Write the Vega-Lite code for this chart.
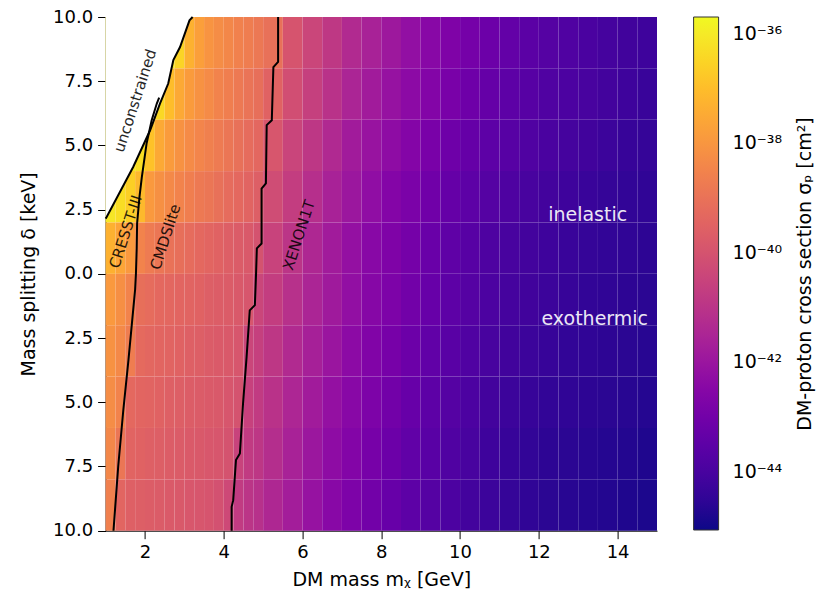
{
  "$schema": "https://vega.github.io/schema/vega-lite/v6.json",
  "width": 551.4,
  "height": 513.7,
  "autosize": {"type": "none"},
  "padding": {"left": 105.6, "top": 17, "right": 168, "bottom": 59.3},
  "background": "white",
  "config": {
    "font": "DejaVu Sans",
    "view": {"stroke": null},
    "axis": {"grid": false, "labelFontSize": 18, "titleFontSize": 19, "titleFontWeight": "normal", "labelColor": "black", "titleColor": "black", "tickColor": "black", "domainColor": "black", "tickSize": 8, "zindex": 1},
    "legend": {"labelFontSize": 19, "titleFontSize": 19, "titleFontWeight": "normal", "labelColor": "black", "titleColor": "black"}
  },
  "datasets": {
    "grid": [
      {"m0":1,"m1":1.25,"d0":8,"d1":10,"logs":-36.0},{"m0":1.25,"m1":1.5,"d0":8,"d1":10,"logs":-36.0},{"m0":1.5,"m1":1.75,"d0":8,"d1":10,"logs":-36.0},{"m0":1.75,"m1":2,"d0":8,"d1":10,"logs":-36.0},{"m0":2,"m1":2.25,"d0":8,"d1":10,"logs":-36.0},{"m0":2.25,"m1":2.5,"d0":8,"d1":10,"logs":-36.0},{"m0":2.5,"m1":2.75,"d0":8,"d1":10,"logs":-36.1},{"m0":2.75,"m1":3,"d0":8,"d1":10,"logs":-36.5},{"m0":3,"m1":3.25,"d0":8,"d1":10,"logs":-37.3},{"m0":3.25,"m1":3.5,"d0":8,"d1":10,"logs":-37.75},{"m0":3.5,"m1":3.75,"d0":8,"d1":10,"logs":-38.05},{"m0":3.75,"m1":4,"d0":8,"d1":10,"logs":-38.25},{"m0":4,"m1":4.25,"d0":8,"d1":10,"logs":-38.4},{"m0":4.25,"m1":4.5,"d0":8,"d1":10,"logs":-38.55},{"m0":4.5,"m1":4.75,"d0":8,"d1":10,"logs":-38.7},{"m0":4.75,"m1":5,"d0":8,"d1":10,"logs":-38.85},{"m0":5,"m1":5.5,"d0":8,"d1":10,"logs":-39.05},{"m0":5.5,"m1":6,"d0":8,"d1":10,"logs":-39.95},{"m0":6,"m1":6.5,"d0":8,"d1":10,"logs":-40.4},{"m0":6.5,"m1":7,"d0":8,"d1":10,"logs":-40.85},{"m0":7,"m1":7.5,"d0":8,"d1":10,"logs":-41.3},{"m0":7.5,"m1":8,"d0":8,"d1":10,"logs":-41.6},{"m0":8,"m1":8.5,"d0":8,"d1":10,"logs":-41.9},{"m0":8.5,"m1":9,"d0":8,"d1":10,"logs":-42.2},{"m0":9,"m1":9.5,"d0":8,"d1":10,"logs":-42.45},{"m0":9.5,"m1":10,"d0":8,"d1":10,"logs":-42.7},{"m0":10,"m1":10.5,"d0":8,"d1":10,"logs":-42.95},{"m0":10.5,"m1":11,"d0":8,"d1":10,"logs":-43.15},{"m0":11,"m1":11.5,"d0":8,"d1":10,"logs":-43.35},{"m0":11.5,"m1":12,"d0":8,"d1":10,"logs":-43.55},{"m0":12,"m1":12.5,"d0":8,"d1":10,"logs":-43.7},{"m0":12.5,"m1":13,"d0":8,"d1":10,"logs":-43.8},{"m0":13,"m1":13.5,"d0":8,"d1":10,"logs":-43.95},{"m0":13.5,"m1":14,"d0":8,"d1":10,"logs":-44.05},{"m0":14,"m1":14.5,"d0":8,"d1":10,"logs":-44.15},{"m0":14.5,"m1":15,"d0":8,"d1":10,"logs":-44.2},
      {"m0":1,"m1":1.25,"d0":6,"d1":8,"logs":-36.0},{"m0":1.25,"m1":1.5,"d0":6,"d1":8,"logs":-36.0},{"m0":1.5,"m1":1.75,"d0":6,"d1":8,"logs":-36.0},{"m0":1.75,"m1":2,"d0":6,"d1":8,"logs":-36.0},{"m0":2,"m1":2.25,"d0":6,"d1":8,"logs":-36.1},{"m0":2.25,"m1":2.5,"d0":6,"d1":8,"logs":-36.4},{"m0":2.5,"m1":2.75,"d0":6,"d1":8,"logs":-37.0},{"m0":2.75,"m1":3,"d0":6,"d1":8,"logs":-37.5},{"m0":3,"m1":3.25,"d0":6,"d1":8,"logs":-37.85},{"m0":3.25,"m1":3.5,"d0":6,"d1":8,"logs":-38.1},{"m0":3.5,"m1":3.75,"d0":6,"d1":8,"logs":-38.3},{"m0":3.75,"m1":4,"d0":6,"d1":8,"logs":-38.5},{"m0":4,"m1":4.25,"d0":6,"d1":8,"logs":-38.65},{"m0":4.25,"m1":4.5,"d0":6,"d1":8,"logs":-38.8},{"m0":4.5,"m1":4.75,"d0":6,"d1":8,"logs":-38.95},{"m0":4.75,"m1":5,"d0":6,"d1":8,"logs":-39.1},{"m0":5,"m1":5.5,"d0":6,"d1":8,"logs":-39.5},{"m0":5.5,"m1":6,"d0":6,"d1":8,"logs":-40.15},{"m0":6,"m1":6.5,"d0":6,"d1":8,"logs":-40.6},{"m0":6.5,"m1":7,"d0":6,"d1":8,"logs":-41.05},{"m0":7,"m1":7.5,"d0":6,"d1":8,"logs":-41.5},{"m0":7.5,"m1":8,"d0":6,"d1":8,"logs":-41.8},{"m0":8,"m1":8.5,"d0":6,"d1":8,"logs":-42.1},{"m0":8.5,"m1":9,"d0":6,"d1":8,"logs":-42.35},{"m0":9,"m1":9.5,"d0":6,"d1":8,"logs":-42.6},{"m0":9.5,"m1":10,"d0":6,"d1":8,"logs":-42.85},{"m0":10,"m1":10.5,"d0":6,"d1":8,"logs":-43.1},{"m0":10.5,"m1":11,"d0":6,"d1":8,"logs":-43.3},{"m0":11,"m1":11.5,"d0":6,"d1":8,"logs":-43.5},{"m0":11.5,"m1":12,"d0":6,"d1":8,"logs":-43.65},{"m0":12,"m1":12.5,"d0":6,"d1":8,"logs":-43.8},{"m0":12.5,"m1":13,"d0":6,"d1":8,"logs":-43.9},{"m0":13,"m1":13.5,"d0":6,"d1":8,"logs":-44.0},{"m0":13.5,"m1":14,"d0":6,"d1":8,"logs":-44.1},{"m0":14,"m1":14.5,"d0":6,"d1":8,"logs":-44.2},{"m0":14.5,"m1":15,"d0":6,"d1":8,"logs":-44.3},
      {"m0":1,"m1":1.25,"d0":4,"d1":6,"logs":-36.0},{"m0":1.25,"m1":1.5,"d0":4,"d1":6,"logs":-36.0},{"m0":1.5,"m1":1.75,"d0":4,"d1":6,"logs":-36.1},{"m0":1.75,"m1":2,"d0":4,"d1":6,"logs":-36.3},{"m0":2,"m1":2.25,"d0":4,"d1":6,"logs":-36.9},{"m0":2.25,"m1":2.5,"d0":4,"d1":6,"logs":-37.5},{"m0":2.5,"m1":2.75,"d0":4,"d1":6,"logs":-37.85},{"m0":2.75,"m1":3,"d0":4,"d1":6,"logs":-38.1},{"m0":3,"m1":3.25,"d0":4,"d1":6,"logs":-38.3},{"m0":3.25,"m1":3.5,"d0":4,"d1":6,"logs":-38.45},{"m0":3.5,"m1":3.75,"d0":4,"d1":6,"logs":-38.6},{"m0":3.75,"m1":4,"d0":4,"d1":6,"logs":-38.75},{"m0":4,"m1":4.25,"d0":4,"d1":6,"logs":-38.9},{"m0":4.25,"m1":4.5,"d0":4,"d1":6,"logs":-39.05},{"m0":4.5,"m1":4.75,"d0":4,"d1":6,"logs":-39.2},{"m0":4.75,"m1":5,"d0":4,"d1":6,"logs":-39.35},{"m0":5,"m1":5.5,"d0":4,"d1":6,"logs":-39.9},{"m0":5.5,"m1":6,"d0":4,"d1":6,"logs":-40.45},{"m0":6,"m1":6.5,"d0":4,"d1":6,"logs":-40.9},{"m0":6.5,"m1":7,"d0":4,"d1":6,"logs":-41.35},{"m0":7,"m1":7.5,"d0":4,"d1":6,"logs":-41.8},{"m0":7.5,"m1":8,"d0":4,"d1":6,"logs":-42.05},{"m0":8,"m1":8.5,"d0":4,"d1":6,"logs":-42.3},{"m0":8.5,"m1":9,"d0":4,"d1":6,"logs":-42.55},{"m0":9,"m1":9.5,"d0":4,"d1":6,"logs":-42.85},{"m0":9.5,"m1":10,"d0":4,"d1":6,"logs":-43.1},{"m0":10,"m1":10.5,"d0":4,"d1":6,"logs":-43.3},{"m0":10.5,"m1":11,"d0":4,"d1":6,"logs":-43.5},{"m0":11,"m1":11.5,"d0":4,"d1":6,"logs":-43.65},{"m0":11.5,"m1":12,"d0":4,"d1":6,"logs":-43.8},{"m0":12,"m1":12.5,"d0":4,"d1":6,"logs":-43.95},{"m0":12.5,"m1":13,"d0":4,"d1":6,"logs":-44.05},{"m0":13,"m1":13.5,"d0":4,"d1":6,"logs":-44.15},{"m0":13.5,"m1":14,"d0":4,"d1":6,"logs":-44.25},{"m0":14,"m1":14.5,"d0":4,"d1":6,"logs":-44.35},{"m0":14.5,"m1":15,"d0":4,"d1":6,"logs":-44.4},
      {"m0":1,"m1":1.25,"d0":2,"d1":4,"logs":-36.1},{"m0":1.25,"m1":1.5,"d0":2,"d1":4,"logs":-36.3},{"m0":1.5,"m1":1.75,"d0":2,"d1":4,"logs":-36.6},{"m0":1.75,"m1":2,"d0":2,"d1":4,"logs":-37.1},{"m0":2,"m1":2.25,"d0":2,"d1":4,"logs":-37.9},{"m0":2.25,"m1":2.5,"d0":2,"d1":4,"logs":-38.15},{"m0":2.5,"m1":2.75,"d0":2,"d1":4,"logs":-38.35},{"m0":2.75,"m1":3,"d0":2,"d1":4,"logs":-38.5},{"m0":3,"m1":3.25,"d0":2,"d1":4,"logs":-38.65},{"m0":3.25,"m1":3.5,"d0":2,"d1":4,"logs":-38.8},{"m0":3.5,"m1":3.75,"d0":2,"d1":4,"logs":-38.9},{"m0":3.75,"m1":4,"d0":2,"d1":4,"logs":-39.05},{"m0":4,"m1":4.25,"d0":2,"d1":4,"logs":-39.2},{"m0":4.25,"m1":4.5,"d0":2,"d1":4,"logs":-39.3},{"m0":4.5,"m1":4.75,"d0":2,"d1":4,"logs":-39.45},{"m0":4.75,"m1":5,"d0":2,"d1":4,"logs":-39.6},{"m0":5,"m1":5.5,"d0":2,"d1":4,"logs":-40.2},{"m0":5.5,"m1":6,"d0":2,"d1":4,"logs":-40.7},{"m0":6,"m1":6.5,"d0":2,"d1":4,"logs":-41.15},{"m0":6.5,"m1":7,"d0":2,"d1":4,"logs":-41.6},{"m0":7,"m1":7.5,"d0":2,"d1":4,"logs":-41.95},{"m0":7.5,"m1":8,"d0":2,"d1":4,"logs":-42.25},{"m0":8,"m1":8.5,"d0":2,"d1":4,"logs":-42.55},{"m0":8.5,"m1":9,"d0":2,"d1":4,"logs":-42.8},{"m0":9,"m1":9.5,"d0":2,"d1":4,"logs":-43.05},{"m0":9.5,"m1":10,"d0":2,"d1":4,"logs":-43.3},{"m0":10,"m1":10.5,"d0":2,"d1":4,"logs":-43.5},{"m0":10.5,"m1":11,"d0":2,"d1":4,"logs":-43.7},{"m0":11,"m1":11.5,"d0":2,"d1":4,"logs":-43.85},{"m0":11.5,"m1":12,"d0":2,"d1":4,"logs":-44.0},{"m0":12,"m1":12.5,"d0":2,"d1":4,"logs":-44.1},{"m0":12.5,"m1":13,"d0":2,"d1":4,"logs":-44.2},{"m0":13,"m1":13.5,"d0":2,"d1":4,"logs":-44.3},{"m0":13.5,"m1":14,"d0":2,"d1":4,"logs":-44.4},{"m0":14,"m1":14.5,"d0":2,"d1":4,"logs":-44.45},{"m0":14.5,"m1":15,"d0":2,"d1":4,"logs":-44.5},
      {"m0":1,"m1":1.25,"d0":0,"d1":2,"logs":-37.3},{"m0":1.25,"m1":1.5,"d0":0,"d1":2,"logs":-37.6},{"m0":1.5,"m1":1.75,"d0":0,"d1":2,"logs":-37.9},{"m0":1.75,"m1":2,"d0":0,"d1":2,"logs":-38.5},{"m0":2,"m1":2.25,"d0":0,"d1":2,"logs":-38.75},{"m0":2.25,"m1":2.5,"d0":0,"d1":2,"logs":-38.9},{"m0":2.5,"m1":2.75,"d0":0,"d1":2,"logs":-39.0},{"m0":2.75,"m1":3,"d0":0,"d1":2,"logs":-39.1},{"m0":3,"m1":3.25,"d0":0,"d1":2,"logs":-39.2},{"m0":3.25,"m1":3.5,"d0":0,"d1":2,"logs":-39.3},{"m0":3.5,"m1":3.75,"d0":0,"d1":2,"logs":-39.4},{"m0":3.75,"m1":4,"d0":0,"d1":2,"logs":-39.5},{"m0":4,"m1":4.25,"d0":0,"d1":2,"logs":-39.6},{"m0":4.25,"m1":4.5,"d0":0,"d1":2,"logs":-39.7},{"m0":4.5,"m1":4.75,"d0":0,"d1":2,"logs":-39.8},{"m0":4.75,"m1":5,"d0":0,"d1":2,"logs":-40.0},{"m0":5,"m1":5.5,"d0":0,"d1":2,"logs":-40.5},{"m0":5.5,"m1":6,"d0":0,"d1":2,"logs":-40.95},{"m0":6,"m1":6.5,"d0":0,"d1":2,"logs":-41.4},{"m0":6.5,"m1":7,"d0":0,"d1":2,"logs":-41.8},{"m0":7,"m1":7.5,"d0":0,"d1":2,"logs":-42.15},{"m0":7.5,"m1":8,"d0":0,"d1":2,"logs":-42.45},{"m0":8,"m1":8.5,"d0":0,"d1":2,"logs":-42.7},{"m0":8.5,"m1":9,"d0":0,"d1":2,"logs":-42.95},{"m0":9,"m1":9.5,"d0":0,"d1":2,"logs":-43.2},{"m0":9.5,"m1":10,"d0":0,"d1":2,"logs":-43.45},{"m0":10,"m1":10.5,"d0":0,"d1":2,"logs":-43.65},{"m0":10.5,"m1":11,"d0":0,"d1":2,"logs":-43.85},{"m0":11,"m1":11.5,"d0":0,"d1":2,"logs":-44.0},{"m0":11.5,"m1":12,"d0":0,"d1":2,"logs":-44.1},{"m0":12,"m1":12.5,"d0":0,"d1":2,"logs":-44.2},{"m0":12.5,"m1":13,"d0":0,"d1":2,"logs":-44.3},{"m0":13,"m1":13.5,"d0":0,"d1":2,"logs":-44.4},{"m0":13.5,"m1":14,"d0":0,"d1":2,"logs":-44.45},{"m0":14,"m1":14.5,"d0":0,"d1":2,"logs":-44.5},{"m0":14.5,"m1":15,"d0":0,"d1":2,"logs":-44.55},
      {"m0":1,"m1":1.25,"d0":-2,"d1":0,"logs":-37.9},{"m0":1.25,"m1":1.5,"d0":-2,"d1":0,"logs":-38.2},{"m0":1.5,"m1":1.75,"d0":-2,"d1":0,"logs":-38.5},{"m0":1.75,"m1":2,"d0":-2,"d1":0,"logs":-39.1},{"m0":2,"m1":2.25,"d0":-2,"d1":0,"logs":-39.2},{"m0":2.25,"m1":2.5,"d0":-2,"d1":0,"logs":-39.3},{"m0":2.5,"m1":2.75,"d0":-2,"d1":0,"logs":-39.35},{"m0":2.75,"m1":3,"d0":-2,"d1":0,"logs":-39.4},{"m0":3,"m1":3.25,"d0":-2,"d1":0,"logs":-39.45},{"m0":3.25,"m1":3.5,"d0":-2,"d1":0,"logs":-39.5},{"m0":3.5,"m1":3.75,"d0":-2,"d1":0,"logs":-39.6},{"m0":3.75,"m1":4,"d0":-2,"d1":0,"logs":-39.65},{"m0":4,"m1":4.25,"d0":-2,"d1":0,"logs":-39.7},{"m0":4.25,"m1":4.5,"d0":-2,"d1":0,"logs":-39.8},{"m0":4.5,"m1":4.75,"d0":-2,"d1":0,"logs":-39.9},{"m0":4.75,"m1":5,"d0":-2,"d1":0,"logs":-40.4},{"m0":5,"m1":5.5,"d0":-2,"d1":0,"logs":-40.7},{"m0":5.5,"m1":6,"d0":-2,"d1":0,"logs":-41.1},{"m0":6,"m1":6.5,"d0":-2,"d1":0,"logs":-41.5},{"m0":6.5,"m1":7,"d0":-2,"d1":0,"logs":-41.85},{"m0":7,"m1":7.5,"d0":-2,"d1":0,"logs":-42.2},{"m0":7.5,"m1":8,"d0":-2,"d1":0,"logs":-42.5},{"m0":8,"m1":8.5,"d0":-2,"d1":0,"logs":-42.75},{"m0":8.5,"m1":9,"d0":-2,"d1":0,"logs":-43.0},{"m0":9,"m1":9.5,"d0":-2,"d1":0,"logs":-43.25},{"m0":9.5,"m1":10,"d0":-2,"d1":0,"logs":-43.5},{"m0":10,"m1":10.5,"d0":-2,"d1":0,"logs":-43.7},{"m0":10.5,"m1":11,"d0":-2,"d1":0,"logs":-43.9},{"m0":11,"m1":11.5,"d0":-2,"d1":0,"logs":-44.05},{"m0":11.5,"m1":12,"d0":-2,"d1":0,"logs":-44.15},{"m0":12,"m1":12.5,"d0":-2,"d1":0,"logs":-44.25},{"m0":12.5,"m1":13,"d0":-2,"d1":0,"logs":-44.35},{"m0":13,"m1":13.5,"d0":-2,"d1":0,"logs":-44.45},{"m0":13.5,"m1":14,"d0":-2,"d1":0,"logs":-44.5},{"m0":14,"m1":14.5,"d0":-2,"d1":0,"logs":-44.55},{"m0":14.5,"m1":15,"d0":-2,"d1":0,"logs":-44.6},
      {"m0":1,"m1":1.25,"d0":-4,"d1":-2,"logs":-38.1},{"m0":1.25,"m1":1.5,"d0":-4,"d1":-2,"logs":-38.35},{"m0":1.5,"m1":1.75,"d0":-4,"d1":-2,"logs":-38.7},{"m0":1.75,"m1":2,"d0":-4,"d1":-2,"logs":-39.25},{"m0":2,"m1":2.25,"d0":-4,"d1":-2,"logs":-39.35},{"m0":2.25,"m1":2.5,"d0":-4,"d1":-2,"logs":-39.4},{"m0":2.5,"m1":2.75,"d0":-4,"d1":-2,"logs":-39.45},{"m0":2.75,"m1":3,"d0":-4,"d1":-2,"logs":-39.5},{"m0":3,"m1":3.25,"d0":-4,"d1":-2,"logs":-39.55},{"m0":3.25,"m1":3.5,"d0":-4,"d1":-2,"logs":-39.6},{"m0":3.5,"m1":3.75,"d0":-4,"d1":-2,"logs":-39.7},{"m0":3.75,"m1":4,"d0":-4,"d1":-2,"logs":-39.75},{"m0":4,"m1":4.25,"d0":-4,"d1":-2,"logs":-39.8},{"m0":4.25,"m1":4.5,"d0":-4,"d1":-2,"logs":-39.9},{"m0":4.5,"m1":4.75,"d0":-4,"d1":-2,"logs":-40.4},{"m0":4.75,"m1":5,"d0":-4,"d1":-2,"logs":-40.6},{"m0":5,"m1":5.5,"d0":-4,"d1":-2,"logs":-40.9},{"m0":5.5,"m1":6,"d0":-4,"d1":-2,"logs":-41.3},{"m0":6,"m1":6.5,"d0":-4,"d1":-2,"logs":-41.65},{"m0":6.5,"m1":7,"d0":-4,"d1":-2,"logs":-42.0},{"m0":7,"m1":7.5,"d0":-4,"d1":-2,"logs":-42.35},{"m0":7.5,"m1":8,"d0":-4,"d1":-2,"logs":-42.65},{"m0":8,"m1":8.5,"d0":-4,"d1":-2,"logs":-42.9},{"m0":8.5,"m1":9,"d0":-4,"d1":-2,"logs":-43.15},{"m0":9,"m1":9.5,"d0":-4,"d1":-2,"logs":-43.4},{"m0":9.5,"m1":10,"d0":-4,"d1":-2,"logs":-43.6},{"m0":10,"m1":10.5,"d0":-4,"d1":-2,"logs":-43.8},{"m0":10.5,"m1":11,"d0":-4,"d1":-2,"logs":-44.0},{"m0":11,"m1":11.5,"d0":-4,"d1":-2,"logs":-44.15},{"m0":11.5,"m1":12,"d0":-4,"d1":-2,"logs":-44.25},{"m0":12,"m1":12.5,"d0":-4,"d1":-2,"logs":-44.35},{"m0":12.5,"m1":13,"d0":-4,"d1":-2,"logs":-44.45},{"m0":13,"m1":13.5,"d0":-4,"d1":-2,"logs":-44.5},{"m0":13.5,"m1":14,"d0":-4,"d1":-2,"logs":-44.55},{"m0":14,"m1":14.5,"d0":-4,"d1":-2,"logs":-44.6},{"m0":14.5,"m1":15,"d0":-4,"d1":-2,"logs":-44.65},
      {"m0":1,"m1":1.25,"d0":-6,"d1":-4,"logs":-38.25},{"m0":1.25,"m1":1.5,"d0":-6,"d1":-4,"logs":-38.5},{"m0":1.5,"m1":1.75,"d0":-6,"d1":-4,"logs":-39.3},{"m0":1.75,"m1":2,"d0":-6,"d1":-4,"logs":-39.4},{"m0":2,"m1":2.25,"d0":-6,"d1":-4,"logs":-39.45},{"m0":2.25,"m1":2.5,"d0":-6,"d1":-4,"logs":-39.5},{"m0":2.5,"m1":2.75,"d0":-6,"d1":-4,"logs":-39.55},{"m0":2.75,"m1":3,"d0":-6,"d1":-4,"logs":-39.6},{"m0":3,"m1":3.25,"d0":-6,"d1":-4,"logs":-39.65},{"m0":3.25,"m1":3.5,"d0":-6,"d1":-4,"logs":-39.7},{"m0":3.5,"m1":3.75,"d0":-6,"d1":-4,"logs":-39.75},{"m0":3.75,"m1":4,"d0":-6,"d1":-4,"logs":-39.8},{"m0":4,"m1":4.25,"d0":-6,"d1":-4,"logs":-39.9},{"m0":4.25,"m1":4.5,"d0":-6,"d1":-4,"logs":-40.0},{"m0":4.5,"m1":4.75,"d0":-6,"d1":-4,"logs":-40.55},{"m0":4.75,"m1":5,"d0":-6,"d1":-4,"logs":-40.75},{"m0":5,"m1":5.5,"d0":-6,"d1":-4,"logs":-41.05},{"m0":5.5,"m1":6,"d0":-6,"d1":-4,"logs":-41.45},{"m0":6,"m1":6.5,"d0":-6,"d1":-4,"logs":-41.8},{"m0":6.5,"m1":7,"d0":-6,"d1":-4,"logs":-42.15},{"m0":7,"m1":7.5,"d0":-6,"d1":-4,"logs":-42.45},{"m0":7.5,"m1":8,"d0":-6,"d1":-4,"logs":-42.75},{"m0":8,"m1":8.5,"d0":-6,"d1":-4,"logs":-43.0},{"m0":8.5,"m1":9,"d0":-6,"d1":-4,"logs":-43.25},{"m0":9,"m1":9.5,"d0":-6,"d1":-4,"logs":-43.5},{"m0":9.5,"m1":10,"d0":-6,"d1":-4,"logs":-43.7},{"m0":10,"m1":10.5,"d0":-6,"d1":-4,"logs":-43.9},{"m0":10.5,"m1":11,"d0":-6,"d1":-4,"logs":-44.1},{"m0":11,"m1":11.5,"d0":-6,"d1":-4,"logs":-44.25},{"m0":11.5,"m1":12,"d0":-6,"d1":-4,"logs":-44.35},{"m0":12,"m1":12.5,"d0":-6,"d1":-4,"logs":-44.45},{"m0":12.5,"m1":13,"d0":-6,"d1":-4,"logs":-44.5},{"m0":13,"m1":13.5,"d0":-6,"d1":-4,"logs":-44.55},{"m0":13.5,"m1":14,"d0":-6,"d1":-4,"logs":-44.6},{"m0":14,"m1":14.5,"d0":-6,"d1":-4,"logs":-44.65},{"m0":14.5,"m1":15,"d0":-6,"d1":-4,"logs":-44.7},
      {"m0":1,"m1":1.25,"d0":-8,"d1":-6,"logs":-38.4},{"m0":1.25,"m1":1.5,"d0":-8,"d1":-6,"logs":-38.9},{"m0":1.5,"m1":1.75,"d0":-8,"d1":-6,"logs":-39.45},{"m0":1.75,"m1":2,"d0":-8,"d1":-6,"logs":-39.5},{"m0":2,"m1":2.25,"d0":-8,"d1":-6,"logs":-39.55},{"m0":2.25,"m1":2.5,"d0":-8,"d1":-6,"logs":-39.6},{"m0":2.5,"m1":2.75,"d0":-8,"d1":-6,"logs":-39.65},{"m0":2.75,"m1":3,"d0":-8,"d1":-6,"logs":-39.7},{"m0":3,"m1":3.25,"d0":-8,"d1":-6,"logs":-39.75},{"m0":3.25,"m1":3.5,"d0":-8,"d1":-6,"logs":-39.8},{"m0":3.5,"m1":3.75,"d0":-8,"d1":-6,"logs":-39.85},{"m0":3.75,"m1":4,"d0":-8,"d1":-6,"logs":-39.9},{"m0":4,"m1":4.25,"d0":-8,"d1":-6,"logs":-40.0},{"m0":4.25,"m1":4.5,"d0":-8,"d1":-6,"logs":-40.5},{"m0":4.5,"m1":4.75,"d0":-8,"d1":-6,"logs":-40.75},{"m0":4.75,"m1":5,"d0":-8,"d1":-6,"logs":-40.9},{"m0":5,"m1":5.5,"d0":-8,"d1":-6,"logs":-41.2},{"m0":5.5,"m1":6,"d0":-8,"d1":-6,"logs":-41.6},{"m0":6,"m1":6.5,"d0":-8,"d1":-6,"logs":-41.95},{"m0":6.5,"m1":7,"d0":-8,"d1":-6,"logs":-42.3},{"m0":7,"m1":7.5,"d0":-8,"d1":-6,"logs":-42.6},{"m0":7.5,"m1":8,"d0":-8,"d1":-6,"logs":-42.9},{"m0":8,"m1":8.5,"d0":-8,"d1":-6,"logs":-43.15},{"m0":8.5,"m1":9,"d0":-8,"d1":-6,"logs":-43.4},{"m0":9,"m1":9.5,"d0":-8,"d1":-6,"logs":-43.6},{"m0":9.5,"m1":10,"d0":-8,"d1":-6,"logs":-43.8},{"m0":10,"m1":10.5,"d0":-8,"d1":-6,"logs":-44.0},{"m0":10.5,"m1":11,"d0":-8,"d1":-6,"logs":-44.2},{"m0":11,"m1":11.5,"d0":-8,"d1":-6,"logs":-44.35},{"m0":11.5,"m1":12,"d0":-8,"d1":-6,"logs":-44.45},{"m0":12,"m1":12.5,"d0":-8,"d1":-6,"logs":-44.55},{"m0":12.5,"m1":13,"d0":-8,"d1":-6,"logs":-44.6},{"m0":13,"m1":13.5,"d0":-8,"d1":-6,"logs":-44.65},{"m0":13.5,"m1":14,"d0":-8,"d1":-6,"logs":-44.7},{"m0":14,"m1":14.5,"d0":-8,"d1":-6,"logs":-44.75},{"m0":14.5,"m1":15,"d0":-8,"d1":-6,"logs":-44.8},
      {"m0":1,"m1":1.25,"d0":-10,"d1":-8,"logs":-38.6},{"m0":1.25,"m1":1.5,"d0":-10,"d1":-8,"logs":-39.4},{"m0":1.5,"m1":1.75,"d0":-10,"d1":-8,"logs":-39.55},{"m0":1.75,"m1":2,"d0":-10,"d1":-8,"logs":-39.6},{"m0":2,"m1":2.25,"d0":-10,"d1":-8,"logs":-39.65},{"m0":2.25,"m1":2.5,"d0":-10,"d1":-8,"logs":-39.7},{"m0":2.5,"m1":2.75,"d0":-10,"d1":-8,"logs":-39.75},{"m0":2.75,"m1":3,"d0":-10,"d1":-8,"logs":-39.8},{"m0":3,"m1":3.25,"d0":-10,"d1":-8,"logs":-39.85},{"m0":3.25,"m1":3.5,"d0":-10,"d1":-8,"logs":-39.9},{"m0":3.5,"m1":3.75,"d0":-10,"d1":-8,"logs":-39.95},{"m0":3.75,"m1":4,"d0":-10,"d1":-8,"logs":-40.05},{"m0":4,"m1":4.25,"d0":-10,"d1":-8,"logs":-40.3},{"m0":4.25,"m1":4.5,"d0":-10,"d1":-8,"logs":-40.75},{"m0":4.5,"m1":4.75,"d0":-10,"d1":-8,"logs":-40.95},{"m0":4.75,"m1":5,"d0":-10,"d1":-8,"logs":-41.1},{"m0":5,"m1":5.5,"d0":-10,"d1":-8,"logs":-41.4},{"m0":5.5,"m1":6,"d0":-10,"d1":-8,"logs":-41.75},{"m0":6,"m1":6.5,"d0":-10,"d1":-8,"logs":-42.1},{"m0":6.5,"m1":7,"d0":-10,"d1":-8,"logs":-42.45},{"m0":7,"m1":7.5,"d0":-10,"d1":-8,"logs":-42.75},{"m0":7.5,"m1":8,"d0":-10,"d1":-8,"logs":-43.0},{"m0":8,"m1":8.5,"d0":-10,"d1":-8,"logs":-43.25},{"m0":8.5,"m1":9,"d0":-10,"d1":-8,"logs":-43.5},{"m0":9,"m1":9.5,"d0":-10,"d1":-8,"logs":-43.7},{"m0":9.5,"m1":10,"d0":-10,"d1":-8,"logs":-43.9},{"m0":10,"m1":10.5,"d0":-10,"d1":-8,"logs":-44.1},{"m0":10.5,"m1":11,"d0":-10,"d1":-8,"logs":-44.25},{"m0":11,"m1":11.5,"d0":-10,"d1":-8,"logs":-44.4},{"m0":11.5,"m1":12,"d0":-10,"d1":-8,"logs":-44.5},{"m0":12,"m1":12.5,"d0":-10,"d1":-8,"logs":-44.6},{"m0":12.5,"m1":13,"d0":-10,"d1":-8,"logs":-44.65},{"m0":13,"m1":13.5,"d0":-10,"d1":-8,"logs":-44.7},{"m0":13.5,"m1":14,"d0":-10,"d1":-8,"logs":-44.75},{"m0":14,"m1":14.5,"d0":-10,"d1":-8,"logs":-44.8},{"m0":14.5,"m1":15,"d0":-10,"d1":-8,"logs":-44.85}
    ],
    "curves": [
      {"curve":"unconstrained","i":0,"mass":1.0,"delta":2.15},
      {"curve":"unconstrained","i":1,"mass":1.03,"delta":2.22},
      {"curve":"unconstrained","i":2,"mass":1.7,"delta":4.16},
      {"curve":"unconstrained","i":3,"mass":2.13,"delta":5.59},
      {"curve":"unconstrained","i":4,"mass":2.38,"delta":6.63},
      {"curve":"unconstrained","i":5,"mass":2.59,"delta":7.41},
      {"curve":"unconstrained","i":6,"mass":2.72,"delta":8.32},
      {"curve":"unconstrained","i":7,"mass":2.89,"delta":8.83},
      {"curve":"unconstrained","i":8,"mass":3.13,"delta":9.87},
      {"curve":"unconstrained","i":9,"mass":3.21,"delta":10.0},
      {"curve":"CRESST","i":0,"mass":1.2,"delta":-10.0},
      {"curve":"CRESST","i":1,"mass":1.32,"delta":-7.5},
      {"curve":"CRESST","i":2,"mass":1.45,"delta":-5.3},
      {"curve":"CRESST","i":3,"mass":1.58,"delta":-3.36},
      {"curve":"CRESST","i":4,"mass":1.7,"delta":-1.41},
      {"curve":"CRESST","i":5,"mass":1.75,"delta":-0.6},
      {"curve":"CRESST","i":6,"mass":1.77,"delta":0.0},
      {"curve":"CRESST","i":7,"mass":1.79,"delta":1.0},
      {"curve":"CRESST","i":8,"mass":1.8,"delta":1.96},
      {"curve":"CRESST","i":9,"mass":1.86,"delta":3.0},
      {"curve":"CRESST","i":10,"mass":1.92,"delta":3.77},
      {"curve":"CRESST","i":11,"mass":2.04,"delta":5.07},
      {"curve":"CRESST","i":12,"mass":2.17,"delta":5.98},
      {"curve":"CRESST","i":13,"mass":2.3,"delta":6.63},
      {"curve":"CRESST","i":14,"mass":2.36,"delta":6.86},
      {"curve":"XENON","i":0,"mass":4.2,"delta":-10.0},
      {"curve":"XENON","i":1,"mass":4.2,"delta":-9.07},
      {"curve":"XENON","i":2,"mass":4.24,"delta":-8.81},
      {"curve":"XENON","i":3,"mass":4.31,"delta":-7.25},
      {"curve":"XENON","i":4,"mass":4.41,"delta":-6.99},
      {"curve":"XENON","i":5,"mass":4.49,"delta":-5.04},
      {"curve":"XENON","i":6,"mass":4.58,"delta":-3.23},
      {"curve":"XENON","i":7,"mass":4.66,"delta":-1.42},
      {"curve":"XENON","i":8,"mass":4.79,"delta":-1.22},
      {"curve":"XENON","i":9,"mass":4.82,"delta":0.0},
      {"curve":"XENON","i":10,"mass":4.84,"delta":0.99},
      {"curve":"XENON","i":11,"mass":4.96,"delta":1.18},
      {"curve":"XENON","i":12,"mass":4.96,"delta":3.32},
      {"curve":"XENON","i":13,"mass":5.07,"delta":3.52},
      {"curve":"XENON","i":14,"mass":5.09,"delta":5.79},
      {"curve":"XENON","i":15,"mass":5.22,"delta":5.98},
      {"curve":"XENON","i":16,"mass":5.26,"delta":8.05},
      {"curve":"XENON","i":17,"mass":5.38,"delta":8.25},
      {"curve":"XENON","i":18,"mass":5.38,"delta":10.0}
    ],
    "darklabels": [
      {"label":"unconstrained","mass":1.75,"delta":6.74},
      {"label":"CRESST-III","mass":1.51,"delta":1.64},
      {"label":"CMDSlite","mass":2.52,"delta":1.44},
      {"label":"XENON1T","mass":5.91,"delta":1.51}
    ],
    "regionlabels": [
      {"label":"inelastic","mass":13.24,"delta":2.3},
      {"label":"exothermic","mass":13.42,"delta":-1.75}
    ]
  },
  "layer": [
    {
      "data": {"name": "grid"},
      "mark": {"type": "rect", "strokeWidth": 0},
      "encoding": {
        "x": {"field": "m0", "type": "quantitative", "scale": {"domain": [1, 15], "nice": false, "zero": false},
              "axis": {"title": "DM mass mᵪ [GeV]", "values": [2, 4, 6, 8, 10, 12, 14], "labelPadding": 5, "titlePadding": 9}},
        "x2": {"field": "m1"},
        "y": {"field": "d0", "type": "quantitative", "scale": {"domain": [-10, 10], "nice": false, "zero": false},
              "axis": {"title": "Mass splitting δ [keV]", "values": [-10, -7.5, -5, -2.5, 0, 2.5, 5, 7.5, 10], "labelExpr": "format(abs(datum.value), '.1f')", "labelPadding": 5, "titlePadding": 14}},
        "y2": {"field": "d1"},
        "color": {"field": "logs", "type": "quantitative",
                  "scale": {"scheme": "plasma", "domain": [-45.06, -35.69], "nice": false},
                  "legend": {"title": "DM-proton cross section σₚ [cm²]", "titleOrient": "right", "titlePadding": 33, "titleLimit": 800, "titleAnchor": "middle",
                             "values": [-44, -42, -40, -38, -36],
                             "labelExpr": "'10' + (datum.value == -36 ? '⁻³⁶' : datum.value == -38 ? '⁻³⁸' : datum.value == -40 ? '⁻⁴⁰' : datum.value == -42 ? '⁻⁴²' : '⁻⁴⁴')",
                             "gradientLength": 513, "gradientThickness": 25, "offset": 36, "padding": 0, "labelOffset": 14,
                             "gradientStrokeColor": "#333333", "gradientStrokeWidth": 1,
                             "encode": {"title": {"update": {"angle": {"value": 270}}}}}}
      }
    },
    {
      "data": {"name": "curves"},
      "transform": [{"filter": "datum.curve == 'unconstrained'"}],
      "mark": {"type": "area", "fill": "white", "fillOpacity": 1},
      "encoding": {
        "x": {"field": "mass", "type": "quantitative"},
        "y": {"field": "delta", "type": "quantitative"},
        "y2": {"datum": 10}
      }
    },
    {
      "data": {"name": "curves"},
      "mark": {"type": "line", "color": "black", "strokeWidth": 2},
      "encoding": {
        "x": {"field": "mass", "type": "quantitative"},
        "y": {"field": "delta", "type": "quantitative"},
        "detail": {"field": "curve"},
        "order": {"field": "i"}
      }
    },
    {
      "mark": {"type": "rule", "color": "black", "strokeWidth": 2.5},
      "encoding": {"y": {"datum": 0}}
    },
    {
      "data": {"name": "darklabels"},
      "mark": {"type": "text", "angle": 288, "fontSize": 15, "color": "black", "opacity": 0.85, "align": "center", "baseline": "middle"},
      "encoding": {
        "x": {"field": "mass", "type": "quantitative"},
        "y": {"field": "delta", "type": "quantitative"},
        "text": {"field": "label"}
      }
    },
    {
      "data": {"name": "regionlabels"},
      "mark": {"type": "text", "fontSize": 19, "color": "white", "opacity": 0.9, "align": "center", "baseline": "middle"},
      "encoding": {
        "x": {"field": "mass", "type": "quantitative"},
        "y": {"field": "delta", "type": "quantitative"},
        "text": {"field": "label"}
      }
    },
    {
      "mark": {"type": "rect", "fill": null, "stroke": "black", "strokeWidth": 1.2},
      "encoding": {"x": {"datum": 1}, "x2": {"datum": 15}, "y": {"datum": -10}, "y2": {"datum": 10}}
    }
  ]
}
